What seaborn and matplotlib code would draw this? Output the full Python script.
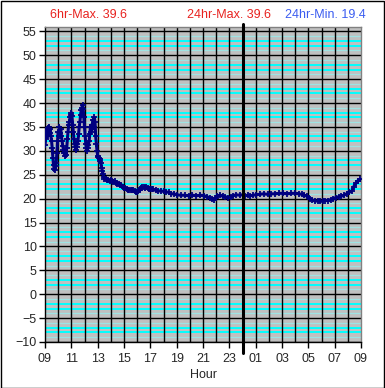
import numpy as np
import pandas as pd
import seaborn as sns
import matplotlib
matplotlib.use("Agg")
from matplotlib import pyplot as plt
from matplotlib.patches import Rectangle


# hours since 09:00
hours = [
    0.00, 0.05, 0.10, 0.15, 0.20, 0.25, 0.30, 0.35, 0.40, 0.45,
    0.50, 0.55, 0.60, 0.65, 0.70, 0.75, 0.80, 0.85, 0.90, 0.95,
    1.00, 1.05, 1.10, 1.15, 1.20, 1.25, 1.30, 1.35, 1.40, 1.45,
    1.50, 1.55, 1.60, 1.65, 1.70, 1.75, 1.80, 1.85, 1.90, 1.95,
    2.00, 2.05, 2.10, 2.15, 2.20, 2.25, 2.30, 2.35, 2.40, 2.45,
    2.50, 2.55, 2.60, 2.65, 2.70, 2.75, 2.80, 2.85, 2.90, 2.95,
    3.00, 3.05, 3.10, 3.15, 3.20, 3.25, 3.30, 3.35, 3.40, 3.45,
    3.50, 3.55, 3.60, 3.65, 3.70, 3.75, 3.80, 3.85, 3.90, 3.95,
    4.00, 4.05, 4.10, 4.15, 4.20, 4.25, 4.30, 4.35, 4.40, 4.45,
    4.50, 4.60, 4.70, 4.80, 4.90, 5.00, 5.10, 5.20, 5.30, 5.40,
    5.50, 5.60, 5.70, 5.80, 5.90, 6.00, 6.10, 6.20, 6.30, 6.40,
    6.50, 6.60, 6.70, 6.80, 6.90, 7.00, 7.10, 7.20, 7.30, 7.40,
    7.50, 7.60, 7.70, 7.80, 7.90, 8.00, 8.10, 8.20, 8.40, 8.60,
    8.80, 9.00, 9.20, 9.40, 9.60, 9.80, 10.0, 10.3, 10.6, 10.9,
    11.2, 11.5, 11.8, 12.1, 12.3, 12.5, 12.7, 12.8, 12.95, 13.1,
    13.3, 13.5, 13.7, 13.9, 14.1, 14.3, 14.5, 14.8, 15.0, 15.2,
    15.4, 15.6, 15.8, 16.0, 16.3, 16.6, 16.9, 17.2, 17.5, 17.8,
    18.1, 18.4, 18.7, 19.0, 19.3, 19.5, 19.7, 19.9, 20.1, 20.3,
    20.5, 20.7, 20.9, 21.1, 21.3, 21.5, 21.7, 21.9, 22.1, 22.3,
    22.5, 22.7, 22.9, 23.1, 23.3, 23.45, 23.6, 23.75, 23.9,
]
temps = [
    31.2, 32.5, 34.0, 33.0, 34.8, 33.4, 35.0, 33.8, 34.6, 33.0,
    32.0, 30.5, 28.5, 27.0, 26.2, 26.0, 26.8, 27.5, 29.5, 32.0,
    34.0, 33.2, 35.0, 33.8, 34.5, 33.0, 32.0, 31.0, 30.2, 29.5,
    29.0, 29.8, 29.2, 30.5, 32.5, 34.0, 35.5, 36.0, 37.0, 37.5,
    38.0, 37.2, 35.5, 34.0, 32.5, 31.5, 30.8, 30.2, 30.8, 31.5,
    32.0, 33.5, 35.0, 36.0, 37.5, 38.5, 39.0, 39.6, 38.8, 37.0,
    35.0, 33.0, 31.5, 30.5, 30.0, 30.5, 31.2, 32.0, 33.5, 35.0,
    34.0, 35.5, 34.5, 36.5, 35.0, 37.0, 36.0, 33.0, 31.5, 30.0,
    29.0, 28.8, 28.5, 28.2, 27.8, 27.5, 26.5, 25.8, 25.2, 24.6,
    24.2, 24.0, 23.8, 23.9, 23.6, 23.8, 23.7, 23.5, 23.6, 23.2,
    23.0, 23.1, 22.8, 22.9, 22.5, 22.3, 22.2, 22.0, 21.9, 21.8,
    21.9, 21.7, 21.8, 21.6, 21.4, 21.4, 21.5, 21.8, 22.2, 22.4,
    22.4, 22.3, 22.4, 22.2, 22.0, 22.0, 22.1, 22.0, 21.7, 21.6,
    21.6, 21.5, 21.4, 21.3, 21.0, 21.0, 20.8, 20.7, 20.7, 20.6,
    20.7, 20.6, 20.7, 20.6, 20.4, 20.2, 19.9, 19.8, 20.1, 20.6,
    20.7, 20.5, 20.4, 20.2, 20.3, 20.6, 20.8, 20.7, 20.8, 20.6,
    20.7, 20.6, 20.7, 20.8, 20.9, 21.0, 20.9, 21.0, 21.0, 21.1,
    21.1, 21.0, 21.1, 21.1, 21.0, 20.9, 20.7, 20.5, 20.0, 19.7,
    19.5, 19.5, 19.4, 19.5, 19.6, 19.6, 19.8, 20.0, 20.2, 20.4,
    20.5, 20.7, 21.0, 21.3, 21.6, 22.5, 23.2, 23.7, 24.0,
]

x_ticks = [0, 2, 4, 6, 8, 10, 12, 14, 16, 18, 20, 22, 24]
x_labels = ["09", "11", "13", "15", "17", "19", "21", "23", "01", "03", "05", "07", "09"]
y_ticks = [-10, -5, 0, 5, 10, 15, 20, 25, 30, 35, 40, 45, 50, 55]
midnight = 15

header_texts = ["6hr-Max. 39.6", "24hr-Max. 39.6", "24hr-Min. 19.4"]

df = pd.DataFrame({"hour": hours, "temp": temps})

sns.set_style("white")
plt.rcParams["font.family"] = ["Liberation Sans", "DejaVu Sans"]

fig = plt.figure(figsize=(3.85, 3.88), dpi=100)
ax = fig.add_axes([45 / 385, 46 / 388, 316 / 385, 315 / 388])
ax.set_facecolor("#c0c0c0")

# minor horizontal grid: middle two lines brighter
for v in range(-10, 56):
    r = v % 5
    if r == 0:
        continue
    if r in (2, 3):
        ax.axhline(v, color="#00ffff", lw=1.4, zorder=1)
    else:
        ax.axhline(v, color="#9fe3e3", lw=0.9, zorder=1)
for v in y_ticks:
    ax.axhline(v, color="black", lw=1.0, zorder=2)
for h in range(1, 24):
    ax.axvline(h, color="black", lw=1.0, zorder=2)

sns.lineplot(data=df, x="hour", y="temp", ax=ax, color="#000080",
             lw=2.2, marker="+", markersize=4.5, mew=1.3,
             markeredgecolor="#000080", markerfacecolor="#000080",
             estimator=None, sort=False, zorder=4)

# midnight divider runs past the plot area
ax.axvline(midnight, ymin=-0.035, ymax=1.01, color="black", lw=2.2,
           clip_on=False, zorder=5)

ax.set_xlim(0, 24)
ax.set_ylim(-10, 55.9)
ax.set_xticks(x_ticks)
ax.set_xticklabels(x_labels)
ax.set_yticks(y_ticks)
ax.tick_params(axis="both", direction="out", length=4, width=1, color="black",
               labelsize=9, pad=2, left=True, bottom=True)
ax.tick_params(axis="x", pad=4)
ax.set_xlabel("Hour", fontsize=9, labelpad=3)
ax.set_ylabel("")

for side in ["top", "right"]:
    ax.spines[side].set_color("#808080")
    ax.spines[side].set_linewidth(1)
for side in ["left", "bottom"]:
    ax.spines[side].set_color("black")
    ax.spines[side].set_linewidth(1)

fig.text(88 / 385, 1 - 15 / 388, header_texts[0], color="#e8221f", fontsize=9, ha="center", va="center")
fig.text(229 / 385, 1 - 15 / 388, header_texts[1], color="#e8221f", fontsize=9, ha="center", va="center")
fig.text(325 / 385, 1 - 15 / 388, header_texts[2], color="#3a5cf0", fontsize=9, ha="center", va="center")

fig.patches.append(Rectangle((0.5 / 385, 0.5 / 388), 383.5 / 385, 386.5 / 388,
                             transform=fig.transFigure, fill=False,
                             edgecolor="black", lw=1))

fig.savefig("out.png", dpi=100)
